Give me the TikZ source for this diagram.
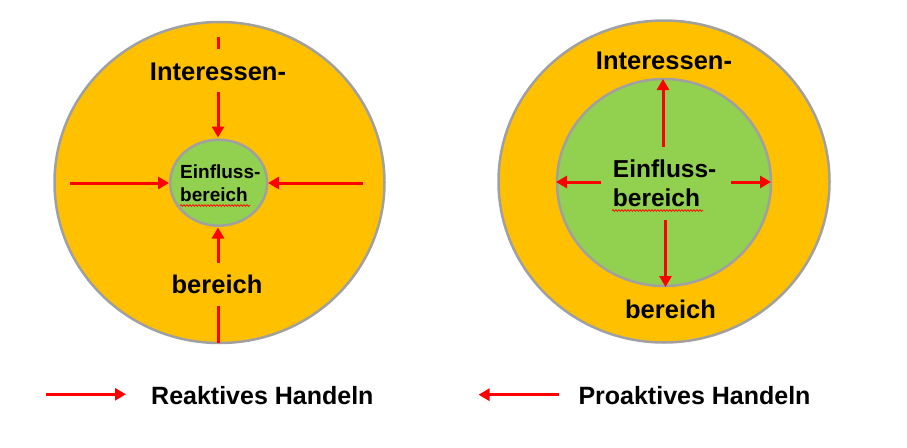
\documentclass[tikz,border=0pt]{standalone}
\usepackage{fontspec}
\setmainfont{Liberation Sans}
\usetikzlibrary{arrows.meta,decorations.pathmorphing}
\definecolor{ringorange}{HTML}{FFC000}
\definecolor{coregreen}{HTML}{92D050}
\definecolor{rimgray}{HTML}{A0A0A0}
\definecolor{arrowred}{HTML}{FF0000}
\tikzset{
  ring/.style={draw=rimgray, line width=2.5pt, fill=ringorange},
  core/.style={draw=rimgray, line width=2.5pt, fill=coregreen},
  redarrow/.style={draw=arrowred, line width=3pt, -{Triangle[length=11pt,width=12pt]}},
  redline/.style={draw=arrowred, line width=3pt},
  biglabel/.style={font=\bfseries\fontsize{25.5}{30}\selectfont, inner sep=0pt, anchor=base},
  smalllabel/.style={font=\bfseries\fontsize{19}{23}\selectfont, inner sep=0pt, anchor=base west},
  midlabel/.style={font=\bfseries\fontsize{24.5}{29}\selectfont, inner sep=0pt, anchor=base west},
  legendlabel/.style={font=\bfseries\fontsize{25}{30}\selectfont, inner sep=0pt, anchor=base west},
  squiggle/.style={draw=arrowred, line width=0.7pt, decorate, decoration={snake, amplitude=0.9pt, segment length=3pt}}
}
\begin{document}
\begin{tikzpicture}[x=1pt,y=-1pt]
\useasboundingbox (0,0) rectangle (907,447);
\fill[white] (0,0) rectangle (907,447);

% ---------- left diagram ----------
\path[ring] (219.5,182.5) ellipse [x radius=165, y radius=160.5];
\path[core] (218.7,182.7) ellipse [x radius=48.5, y radius=43];

\coordinate (lt0) at (218,37);
\coordinate (lt1) at (218,49);
\coordinate (lt2) at (218,92);
\coordinate (lt3) at (218,137.5);
\draw[redline] (lt0) -- (lt1);
\draw[redarrow] (lt2) -- (lt3);

\coordinate (ll0) at (70,183);
\coordinate (ll1) at (169,183);
\draw[redarrow] (ll0) -- (ll1);
\coordinate (lr0) at (363,183);
\coordinate (lr1) at (268,183);
\draw[redarrow] (lr0) -- (lr1);

\coordinate (lb0) at (218,263);
\coordinate (lb1) at (218,227.5);
\draw[redarrow] (lb0) -- (lb1);
\coordinate (lb2) at (218,306);
\coordinate (lb3) at (218,343);
\draw[redline] (lb2) -- (lb3);

\node[biglabel] (lint) at (218,80) {Interessen-};
\node[biglabel] (lber) at (217,293) {bereich};
\node[smalllabel] (lein) at (180,178.3) {Einfluss-};
\node[smalllabel] (lbe2) at (180,201.7) {bereich};
\coordinate (lsq0) at (180,205.5);
\coordinate (lsq1) at (250,205.5);
\draw[squiggle] (lsq0) -- (lsq1);

% ---------- right diagram ----------
\path[ring] (664,181.5) ellipse [x radius=165.5, y radius=161];
\path[core] (664,182.5) ellipse [x radius=107, y radius=103.5];

\coordinate (ru0) at (663,147);
\coordinate (ru1) at (663,79);
\draw[redarrow] (ru0) -- (ru1);
\coordinate (rl0) at (601,182);
\coordinate (rl1) at (556,182);
\draw[redarrow] (rl0) -- (rl1);
\coordinate (rr0) at (731,182);
\coordinate (rr1) at (771,182);
\draw[redarrow] (rr0) -- (rr1);
\coordinate (rd0) at (665.5,220);
\coordinate (rd1) at (665.5,287);
\draw[redarrow] (rd0) -- (rd1);

\node[biglabel] (rint) at (664,69) {Interessen-};
\node[biglabel] (rber) at (670.5,318) {bereich};
\node[midlabel] (rein) at (612.7,177.3) {Einfluss-};
\node[midlabel] (rbe2) at (612.7,206.7) {bereich};
\coordinate (rsq0) at (612,210.5);
\coordinate (rsq1) at (703,210.5);
\draw[squiggle] (rsq0) -- (rsq1);

% ---------- legend ----------
\coordinate (la0) at (46,394.3);
\coordinate (la1) at (126,394.3);
\draw[redarrow, line width=3.5pt] (la0) -- (la1);
\node[legendlabel] (lreak) at (151,404.3) {Reaktives Handeln};

\coordinate (pa0) at (558.5,394.7);
\coordinate (pa1) at (478.5,394.7);
\draw[redarrow, line width=3.5pt] (pa0) -- (pa1);
\node[legendlabel] (lpro) at (578.3,404.5) {Proaktives Handeln};
\end{tikzpicture}
\end{document}
